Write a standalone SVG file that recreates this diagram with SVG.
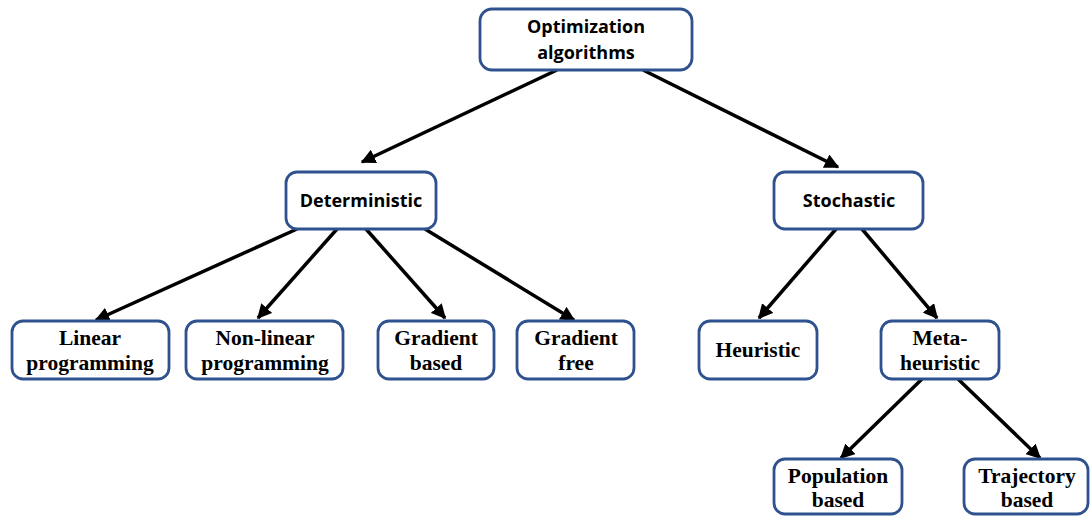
<svg xmlns="http://www.w3.org/2000/svg" width="1091" height="516" viewBox="0 0 1091 516">
<defs>
<marker id="ah" viewBox="0 0 10 10" refX="9" refY="5" markerWidth="4.2" markerHeight="4.2" orient="auto" markerUnits="strokeWidth">
<path d="M0,0 L10,5 L0,10 z" fill="#000"/>
</marker>
<style>
.box{fill:#fff;stroke:#2F528F;stroke-width:2.8}
.ts{font-family:"Open Sans","Liberation Sans",sans-serif;font-weight:bold;font-size:18px;fill:#000;text-anchor:middle}
.tr{font-family:"Liberation Serif","Times New Roman",serif;font-weight:bold;font-size:21.5px;fill:#000;text-anchor:middle}
.c line{stroke:#000;stroke-width:3.5;marker-end:url(#ah)}
</style>
</defs>
<rect width="1091" height="516" fill="#fff"/>
<g class="c" id="connectors">
<line x1="557" y1="70" x2="362" y2="162"/>
<line x1="643" y1="70" x2="838" y2="167"/>
<line x1="297" y1="229" x2="96" y2="320"/>
<line x1="337" y1="229" x2="258" y2="318"/>
<line x1="366" y1="229" x2="445" y2="318"/>
<line x1="425" y1="229" x2="574" y2="320"/>
<line x1="836" y1="229" x2="759" y2="318"/>
<line x1="862" y1="229" x2="937" y2="318"/>
<line x1="922" y1="379" x2="841" y2="458"/>
<line x1="958" y1="379" x2="1040" y2="458"/>
</g>
<g id="n-opt"><rect class="box" x="480" y="9" width="212" height="61" rx="12"/><text class="ts" x="586" y="33">Optimization</text><text class="ts" x="586" y="59">algorithms</text></g>
<g id="n-det"><rect class="box" x="286" y="172" width="150" height="57" rx="11"/><text class="ts" x="361" y="207">Deterministic</text></g>
<g id="n-sto"><rect class="box" x="774" y="172" width="149" height="57" rx="11"/><text class="ts" x="849" y="207">Stochastic</text></g>
<g id="n-lin"><rect class="box" x="12" y="321" width="157" height="58" rx="11"/><text class="tr" x="90" y="345">Linear</text><text class="tr" x="90" y="370">programming</text></g>
<g id="n-nonlin"><rect class="box" x="186" y="321" width="157" height="58" rx="11"/><text class="tr" x="265" y="345">Non-linear</text><text class="tr" x="265" y="370">programming</text></g>
<g id="n-gb"><rect class="box" x="378" y="321" width="116" height="58" rx="11"/><text class="tr" x="436" y="345">Gradient</text><text class="tr" x="436" y="370">based</text></g>
<g id="n-gf"><rect class="box" x="517" y="321" width="117" height="58" rx="11"/><text class="tr" x="576" y="345">Gradient</text><text class="tr" x="576" y="370">free</text></g>
<g id="n-heur"><rect class="box" x="699" y="321" width="118" height="58" rx="11"/><text class="tr" x="758" y="357">Heuristic</text></g>
<g id="n-meta"><rect class="box" x="881" y="321" width="118" height="58" rx="11"/><text class="tr" x="940" y="345">Meta-</text><text class="tr" x="940" y="370">heuristic</text></g>
<g id="n-pop"><rect class="box" x="774" y="459" width="128" height="55" rx="11"/><text class="tr" x="838" y="483">Population</text><text class="tr" x="838" y="507">based</text></g>
<g id="n-traj"><rect class="box" x="964" y="459" width="124" height="55" rx="11"/><text class="tr" x="1027" y="483">Trajectory</text><text class="tr" x="1027" y="507">based</text></g>
</svg>
